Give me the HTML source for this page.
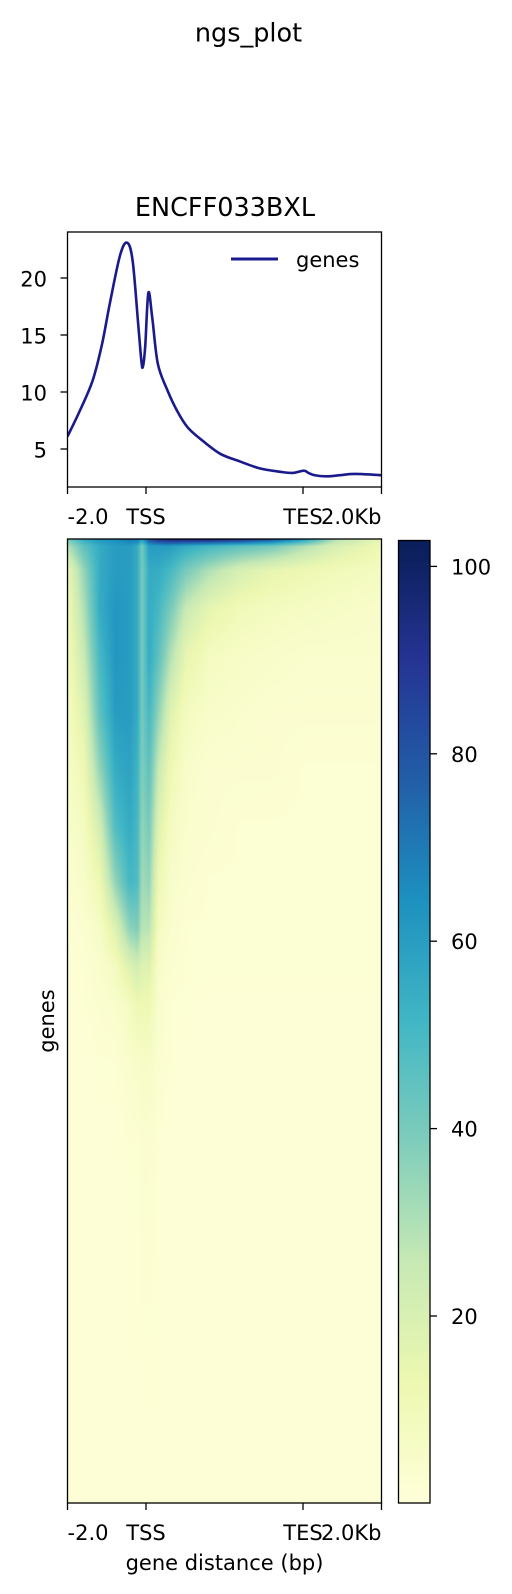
<!DOCTYPE html>
<html><head><meta charset="utf-8"><style>
html,body{margin:0;padding:0;background:#fff;}
#wrap{position:relative;width:512px;height:1594px;overflow:hidden;}
svg text{font-family:"DejaVu Sans","Liberation Sans",sans-serif;fill:#000;}
#hm{position:absolute;left:68px;top:539px;}
#chart{position:absolute;left:0;top:0;}
</style></head><body>
<div id="wrap">
<canvas id="hm" width="314" height="964"></canvas>
<svg id="chart" width="512" height="1594"></svg>
</div>
<script>
// ---- data ----
const profBins = [0,16,32,44,54,67,76,83,90,94,96,99,103,108,115,127,140,153,169,194,220,245,271,287,301,307,315,330,347,360,374,400];
const profVals = [6.1,8.4,11,14.2,17.8,22,23.1,21.5,16,12.8,12.2,14,18.7,16.5,12.5,10.2,8.3,6.9,5.9,4.6,3.9,3.3,3.0,2.9,3.1,2.9,2.7,2.6,2.7,2.8,2.8,2.7];
const profYTicks = [5,10,15,20];
const xTickBins = [0,100,300,400];
const xTickLabels = ["-2.0","TSS","TES","2.0Kb"];
const cbTicks = [20,40,60,80,100];
const hmColBins = [0,20,40,60,78,88,94,103,115,130,150,180,220,260,300,340,400];
const hmRowRanks = [0,0.007,0.032,0.072,0.12,0.18,0.238,0.297,0.356,0.405,0.444,0.483,0.543,0.63,1.0];
const hmRow0 = [40,55,62,65,70,70,60,80,90,95,95,95,90,80,60,30,15];
const hmRow1 = [30,45,55,60,60,55,40,60,60,60,55,50,45,40,30,20,12];
const hmRow2 = [15,35,55,60,60,55,40,55,55,50,40,30,20,15,12,10,8];
const hmRow3 = [12,30,55,62,60,55,40,55,50,40,25,15,10,8,7,6,5];
const hmRow4 = [10,25,50,62,60,55,40,55,45,30,15,8,6,5,4,4,4];
const hmRow5 = [8,18,45,60,60,55,40,50,35,18,8,5,4,3,3,3,3];
const hmRow6 = [6,12,35,55,58,52,38,45,25,12,5,3,3,3,2,2,2];
const hmRow7 = [4,8,22,48,55,50,35,40,18,8,4,3,2,2,2,2,2];
const hmRow8 = [3,5,12,35,50,48,32,35,12,5,3,2,2,2,2,2,2];
const hmRow9 = [2,3,6,18,35,38,28,28,8,4,2,2,2,2,2,2,2];
const hmRow10 = [2,2,4,8,18,22,18,18,5,3,2,2,2,2,2,2,2];
const hmRow11 = [1,2,3,4,8,12,12,12,4,2,2,1,1,1,1,1,1];
const hmRow12 = [1,1,2,2,4,5,6,6,3,2,1,1,1,1,1,1,1];
const hmRow13 = [1,1,1,1,2,2,3,3,2,1,1,1,1,1,1,1,1];
const hmRow14 = [1,1,1,1,1,1,1,1,1,1,1,1,1,1,1,1,1];
const hmRows = [hmRow0,hmRow1,hmRow2,hmRow3,hmRow4,hmRow5,hmRow6,hmRow7,hmRow8,hmRow9,hmRow10,hmRow11,hmRow12,hmRow13,hmRow14];
const cbMin = 0.04, cbMax = 102.3;

// ---- geometry ----
const PX0=67.5, PX1=381.5, PY0=232, PY1=487;
const HY0=539, HY1=1503;
const CBX0=398.5, CBX1=430, CBY0=540.5, CBY1=1503;
const xb = b => PX0 + (b/400)*(PX1-PX0);
const yp = v => 449 - (v-5)*11.4;
const ycb = v => 1316 - (v-20)*9.37;
const NS='http://www.w3.org/2000/svg';
const svg=document.getElementById('chart');
function mk(tag,attrs,parent){const e=document.createElementNS(NS,tag);for(const k in attrs)e.setAttribute(k,attrs[k]);(parent||svg).appendChild(e);return e;}

const YL=[[255,255,217],[237,248,177],[199,233,180],[127,205,187],[65,182,196],[29,145,192],[34,94,168],[37,52,148],[8,29,88]];
function cmap(v){let t=(v-cbMin)/(cbMax-cbMin);t=Math.max(0,Math.min(1,t))*8;const i=Math.min(7,Math.floor(t));const f=t-i;const a=YL[i],b=YL[i+1];return [a[0]+(b[0]-a[0])*f,a[1]+(b[1]-a[1])*f,a[2]+(b[2]-a[2])*f];}

// ---- titles ----
let t=mk('text',{x:248.5,y:41.5,'text-anchor':'middle','font-size':'25.5'});t.textContent='ngs_plot';

t=mk('text',{x:225,y:216,'text-anchor':'middle','font-size':'25.5'});t.textContent='ENCFF033BXL';


// ---- profile ----
const pts=profBins.map((b,i)=>[xb(b),yp(profVals[i])]);
let d='M'+pts[0][0]+','+pts[0][1];
for(let i=0;i<pts.length-1;i++){const p0=pts[Math.max(0,i-1)],p1=pts[i],p2=pts[i+1],p3=pts[Math.min(pts.length-1,i+2)];
d+=' C'+(p1[0]+(p2[0]-p0[0])/6)+','+(p1[1]+(p2[1]-p0[1])/6)+' '+(p2[0]-(p3[0]-p1[0])/6)+','+(p2[1]-(p3[1]-p1[1])/6)+' '+p2[0]+','+p2[1];}
const clip=mk('clipPath',{id:'pc'});mk('rect',{x:PX0,y:PY0,width:PX1-PX0,height:PY1-PY0},clip);
const line=mk('path',{d:d,fill:'none',stroke:'#1a1a8c','stroke-width':'2.6','clip-path':'url(#pc)'});

const pf=mk('rect',{x:PX0,y:PY0,width:PX1-PX0,height:PY1-PY0,fill:'none',stroke:'#000','stroke-width':'1.3'});

profYTicks.forEach(v=>{const y=yp(v);mk('line',{x1:PX0-7,x2:PX0,y1:y,y2:y,stroke:'#000','stroke-width':'1.3'});
const tx=mk('text',{x:47,y:y+8.5,'text-anchor':'end','font-size':'21'});tx.textContent=v;
});
function xticks(ybase){xTickBins.forEach((b,i)=>{const x=xb(b);mk('line',{x1:x,x2:x,y1:ybase,y2:ybase+7,stroke:'#000','stroke-width':'1.3'});
const anchor=i===0?'start':(i===3?'end':'middle');
const tx=mk('text',{x:x,y:ybase+37,'text-anchor':anchor,'font-size':'21'});tx.textContent=xTickLabels[i];
});}
xticks(PY1);
const lg=mk('line',{x1:231,x2:278,y1:259,y2:259,stroke:'#1a1a8c','stroke-width':'3'});

t=mk('text',{x:296,y:267,'font-size':'21'});t.textContent='genes';


// ---- heatmap ----
const cv=document.getElementById('hm');const ctx=cv.getContext('2d');
const W=cv.width,H=cv.height;const img=ctx.createImageData(W,H);
function interp(keys,k){let i=0;while(i<keys.length-2&&k>keys[i+1])i++;const f=Math.max(0,Math.min(1,(k-keys[i])/(keys[i+1]-keys[i])));return [i,f];}
for(let y=0;y<H;y++){const r=y/(H-1);const [ri,rf]=interp(hmRowRanks,r);
 const rowA=hmRows[ri],rowB=hmRows[ri+1];
 for(let x=0;x<W;x++){const b=x/(W-1)*400;const [ci,cf]=interp(hmColBins,b);
  const a=rowA[ci]+(rowA[ci+1]-rowA[ci])*cf;const c=rowB[ci]+(rowB[ci+1]-rowB[ci])*cf;
  const v=a+(c-a)*rf;const col=cmap(v);const o=(y*W+x)*4;
  img.data[o]=col[0];img.data[o+1]=col[1];img.data[o+2]=col[2];img.data[o+3]=255;}}
ctx.putImageData(img,0,0);
const hf=mk('rect',{x:PX0,y:HY0,width:PX1-PX0,height:HY1-HY0,fill:'none',stroke:'#000','stroke-width':'1.3'});

xticks(HY1);
t=mk('text',{x:224.5,y:1570,'text-anchor':'middle','font-size':'21'});t.textContent='gene distance (bp)';

t=mk('text',{x:0,y:0,'text-anchor':'middle','font-size':'21',transform:'translate(54,1021) rotate(-90)'});t.textContent='genes';


// ---- colorbar ----
const defs=mk('defs',{});const lgd=mk('linearGradient',{id:'cbg',x1:0,y1:1,x2:0,y2:0},defs);
YL.forEach((c,i)=>mk('stop',{offset:(i/8),'stop-color':'rgb('+c.join(',')+')'},lgd));
const cb=mk('rect',{x:CBX0,y:CBY0,width:CBX1-CBX0,height:CBY1-CBY0,fill:'url(#cbg)',stroke:'#000','stroke-width':'1.3'});

cbTicks.forEach(v=>{const y=ycb(v);mk('line',{x1:CBX1,x2:CBX1+7,y1:y,y2:y,stroke:'#000','stroke-width':'1.3'});
const tx=mk('text',{x:451,y:y+8,'font-size':'21'});tx.textContent=v;
});
</script>
</body></html>
